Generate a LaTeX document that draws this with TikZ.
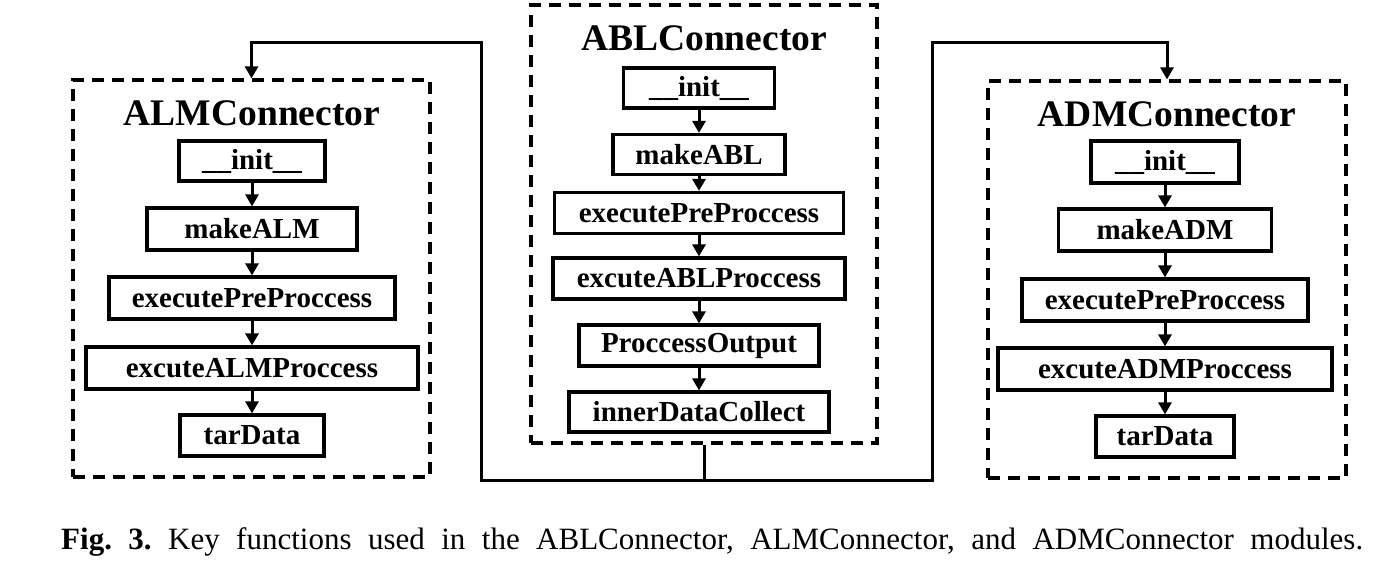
\documentclass[tikz,border=0pt]{standalone}
\usepackage{fontspec}
\setmainfont{Liberation Serif}
\usetikzlibrary{arrows.meta}
\begin{document}
\begin{tikzpicture}[x=1pt,y=-1pt,
  fbox/.style={draw, line width=3.2pt, rectangle, inner sep=0pt, font=\fontsize{29}{32}\selectfont\bfseries, align=center},
  grp/.style={draw, line width=3.2pt, dash pattern=on 12pt off 8pt, rectangle, inner sep=0pt},
  ttl/.style={inner sep=0pt, font=\fontsize{37.5}{40}\selectfont\bfseries},
  arr/.style={line width=3pt, -{Triangle[length=12pt,width=13pt]}},
  ln/.style={line width=3pt}
]
\useasboundingbox (0,0) rectangle (1385,575);

% group boxes
\node[grp, minimum width=357pt, minimum height=397pt] (almbox) at (251.5,278.5) {};
\node[grp, minimum width=346pt, minimum height=438pt] (ablbox) at (704,224) {};
\node[grp, minimum width=358pt, minimum height=397pt] (admbox) at (1167,279.5) {};

% titles
\node[ttl] (almt) at (252,113) {ALMConnector};
\node[ttl] (ablt) at (704,38) {ABLConnector};
\node[ttl] (admt) at (1167,114) {ADMConnector};

% ALM
\node[fbox, minimum width=146pt, minimum height=40pt] (ainit) at (252,161) {\_\_init\_\_};
\node[fbox, minimum width=210pt, minimum height=42pt] (amake) at (252,229) {makeALM};
\node[fbox, minimum width=286pt, minimum height=42pt] (apre) at (252,298) {executePreProccess};
\node[fbox, minimum width=332pt, minimum height=42pt] (aproc) at (252,368) {excuteALMProccess};
\node[fbox, minimum width=144pt, minimum height=41pt] (atar) at (252,435.5) {tarData};

% ABL
\node[fbox, minimum width=151pt, minimum height=40pt] (binit) at (699,88) {\_\_init\_\_};
\node[fbox, minimum width=172pt, minimum height=40pt] (bmake) at (699,154.5) {makeABL};
\node[fbox, minimum width=289pt, minimum height=41pt] (bpre) at (699,213) {executePreProccess};
\node[fbox, minimum width=292pt, minimum height=41pt] (bproc) at (699,278.5) {excuteABLProccess};
\node[fbox, minimum width=240pt, minimum height=41pt] (bout) at (699,345.5) {ProccessOutput};
\node[fbox, minimum width=260pt, minimum height=40pt] (binner) at (699,412) {innerDataCollect};

% ADM
\node[fbox, minimum width=148pt, minimum height=42pt] (dinit) at (1165,162) {\_\_init\_\_};
\node[fbox, minimum width=213pt, minimum height=42pt] (dmake) at (1165,230) {makeADM};
\node[fbox, minimum width=286pt, minimum height=42pt] (dpre) at (1165,300) {executePreProccess};
\node[fbox, minimum width=334pt, minimum height=42pt] (dproc) at (1165,369) {excuteADMProccess};
\node[fbox, minimum width=138pt, minimum height=41pt] (dtar) at (1165,436.5) {tarData};

% inner arrows
\draw[arr] (ainit) -- (amake);
\draw[arr] (amake) -- (apre);
\draw[arr] (apre) -- (aproc);
\draw[arr] (aproc) -- (atar);
\draw[arr] (binit) -- (bmake);
\draw[arr] (bmake) -- (bpre);
\draw[arr] (bpre) -- (bproc);
\draw[arr] (bproc) -- (bout);
\draw[arr] (bout) -- (binner);
\draw[arr] (dinit) -- (dmake);
\draw[arr] (dmake) -- (dpre);
\draw[arr] (dpre) -- (dproc);
\draw[arr] (dproc) -- (dtar);

% outer connectors
\coordinate (j) at (704,480);
\coordinate (lt) at (481,43);
\coordinate (rt) at (932,43);
\draw[ln] (ablbox.south) -- (j);
\draw[arr] (j) -| (lt) -| (almbox.north);
\draw[arr] (j) -| (rt) -| (admbox.north);

% caption
\node[anchor=base west, text width=1302pt, align=justify, inner sep=0pt,
      font=\fontsize{31}{34}\selectfont] (cap) at (61,549)
  {\frenchspacing\parfillskip=0pt\relax\textbf{Fig. 3.} Key functions used in the ABLConnector, ALMConnector, and ADMConnector modules.\par};
\end{tikzpicture}
\end{document}
